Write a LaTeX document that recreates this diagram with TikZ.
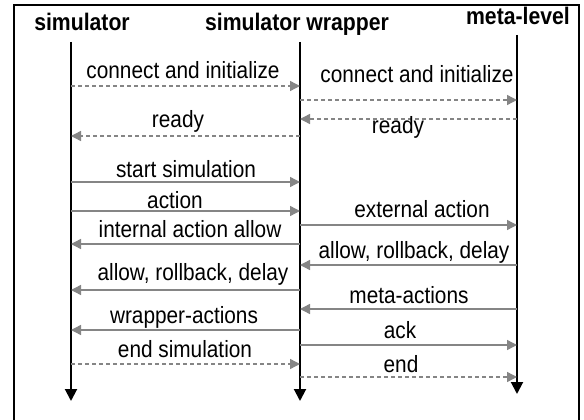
\documentclass[tikz,border=0pt]{standalone}
\usepackage{fontspec}
\usepackage{graphicx}
\setmainfont{Liberation Sans}
\usetikzlibrary{arrows.meta}
\definecolor{msggray}{HTML}{858585}
\newcommand{\tall}[1]{\scalebox{1}[1.13]{#1}}
\tikzset{
  lifeline/.style={line width=2pt, -{Triangle[length=12pt,width=12pt]}},
  msg/.style={draw=msggray, line width=1.4pt, -{Triangle[length=10pt,width=10pt,fill=msggray]}},
  dmsg/.style={msg, dash pattern=on 4pt off 3pt},
  lbl/.style={anchor=base, inner sep=0pt, font=\fontsize{20.8}{24}\selectfont},
  head/.style={anchor=base, inner sep=0pt, font=\fontsize{21.2}{25}\selectfont\bfseries},
}
\begin{document}
\begin{tikzpicture}[x=1pt,y=-1pt]
\useasboundingbox (0,0) rectangle (584,420);
\fill[white] (0,0) rectangle (584,420);
% frame
\draw[line width=2.5pt] (14,425) -- (14,5) -- (579,5) -- (579,425);
% headers
\node[head] (hsim) at (82,31) {\tall{simulator}};
\node[head] (hwrap) at (297,31) {\tall{simulator wrapper}};
\node[head] (hmeta) at (518,25) {\tall{meta-level}};
% lifelines
\coordinate (simT) at (71,42);  \coordinate (simB) at (71,401);
\coordinate (wrapT) at (300,42); \coordinate (wrapB) at (300,401);
\coordinate (metaT) at (517,35); \coordinate (metaB) at (517,394);
\draw[lifeline] (simT) -- (simB);
\draw[lifeline] (wrapT) -- (wrapB);
\draw[lifeline] (metaT) -- (metaB);
% message endpoints
\foreach \n/\y in {1/86,2/136,3/182,4/211,5/244,6/290,7/330,8/364}{
  \coordinate (s\n) at (71,\y); \coordinate (w\n) at (300,\y);}
\foreach \n/\y in {1/100,2/119,3/225,4/265,5/309,6/345,7/377}{
  \coordinate (a\n) at (300,\y); \coordinate (m\n) at (517,\y);}
% left messages
\draw[dmsg] (s1) -- (w1);
\node[lbl] (l1) at (183,78) {\tall{connect and initialize}};
\draw[dmsg] (w2) -- (s2);
\node[lbl] (l2) at (178,128) {\tall{ready}};
\draw[msg] (s3) -- (w3);
\node[lbl] (l3) at (186,177) {\tall{start simulation}};
\draw[msg] (s4) -- (w4);
\node[lbl] (l4) at (175,208) {\tall{action}};
\draw[msg] (w5) -- (s5);
\node[lbl] (l5) at (190,237) {\tall{internal action allow}};
\draw[msg] (w6) -- (s6);
\node[lbl] (l6) at (193,280) {\tall{allow, rollback, delay}};
\draw[msg] (w7) -- (s7);
\node[lbl] (l7) at (184,323) {\tall{wrapper-actions}};
\draw[dmsg] (s8) -- (w8);
\node[lbl] (l8) at (185,357) {\tall{end simulation}};
% right messages
\draw[dmsg] (a1) -- (m1);
\node[lbl] (r1) at (417,83) {\tall{connect and initialize}};
\draw[dmsg] (m2) -- (a2);
\node[lbl] (r2) at (398,133) {\tall{ready}};
\draw[msg] (a3) -- (m3);
\node[lbl] (r3) at (422,217) {\tall{external action}};
\draw[msg] (m4) -- (a4);
\node[lbl] (r4) at (414,258) {\tall{allow, rollback, delay}};
\draw[msg] (m5) -- (a5);
\node[lbl] (r5) at (409,303) {\tall{meta-actions}};
\draw[msg] (a6) -- (m6);
\node[lbl] (r6) at (400,338) {\tall{ack}};
\draw[dmsg] (a7) -- (m7);
\node[lbl] (r7) at (401,372) {\tall{end}};
\end{tikzpicture}
\end{document}
